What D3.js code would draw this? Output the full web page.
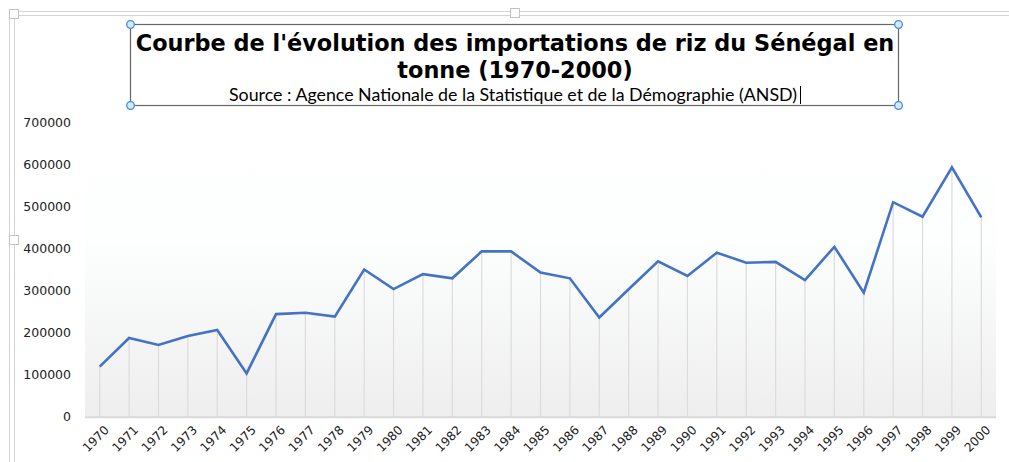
<!DOCTYPE html>
<html>
    <head>
        <meta charset="utf-8">
        <title>Importations de riz du Sénégal</title>
        <script src="https://cdn.jsdelivr.net/npm/d3@7"></script>
        <style>
            body { margin: 0; background: #fff; }
            svg { display: block; }
        </style>
    </head>
    <body>
        <script>
            // data
            var years = ["1970","1971","1972","1973","1974","1975","1976","1977","1978","1979",
                         "1980","1981","1982","1983","1984","1985","1986","1987","1988","1989",
                         "1990","1991","1992","1993","1994","1995","1996","1997","1998","1999","2000"];
            var imports = [119000, 187000, 170500, 192000, 206000, 103000, 244000, 247000, 238000, 350000,
                           303500, 339000, 329000, 393000, 393000, 343000, 329000, 236000, 303000, 369500,
                           334500, 390000, 366000, 368000, 325000, 404000, 295000, 510000, 475500, 593000, 474000];
            var yTicks = [0, 100000, 200000, 300000, 400000, 500000, 600000, 700000];
            var titleLines = ["Courbe de l'évolution des importations de riz du Sénégal en", "tonne (1970-2000)"];
            var subtitle = "Source : Agence Nationale de la Statistique et de la Démographie (ANSD)";

            var W = 1009, H = 462;
            var svg = d3.select("body").append("svg").attr("width", W).attr("height", H);

            // plot area (note: "top" is reserved on window, so use other names)
            var pLeft = 85, pRight = 996, pTop = 122.3, pBottom = 416.7;

            var x = d3.scaleBand().domain(years).range([pLeft, pRight]);
            var y = d3.scaleLinear().domain([0, 700000]).range([pBottom, pTop]);

            // plot background gradient
            var defs = svg.append("defs");
            var grad = defs.append("linearGradient").attr("id", "bg")
                .attr("x1", 0).attr("y1", 0).attr("x2", 0).attr("y2", 1);
            grad.append("stop").attr("offset", "0%").attr("stop-color", "#ffffff");
            grad.append("stop").attr("offset", "40%").attr("stop-color", "#fdfefe");
            grad.append("stop").attr("offset", "100%").attr("stop-color", "#eeeeee");
            svg.append("rect").attr("x", pLeft).attr("y", pTop).attr("width", pRight - pLeft)
                .attr("height", pBottom - pTop).attr("fill", "url(#bg)");

            // sheet frame (selection rulers)
            var frame = svg.append("g").attr("fill", "none");
            frame.append("line").attr("x1", 10).attr("x2", W).attr("y1", 11.5).attr("y2", 11.5).attr("stroke", "#d4d4d4");
            frame.append("line").attr("x1", 15).attr("x2", W).attr("y1", 15.5).attr("y2", 15.5).attr("stroke", "#d4d4d4");
            frame.append("line").attr("y1", 10).attr("y2", H).attr("x1", 9.5).attr("x2", 9.5).attr("stroke", "#d4d4d4");
            frame.append("line").attr("y1", 15).attr("y2", H).attr("x1", 14.5).attr("x2", 14.5).attr("stroke", "#d4d4d4");
            [[14, 14], [515, 13], [14, 240]].forEach(function (p) {
                frame.append("rect").attr("x", p[0] - 4.5).attr("y", p[1] - 4.5).attr("width", 9).attr("height", 9)
                    .attr("fill", "#fff").attr("stroke", "#c4c4c4");
            });

            // drop lines
            svg.append("g").selectAll("line").data(years).join("line")
                .attr("x1", function (d) { return x(d) + x.bandwidth() / 2; })
                .attr("x2", function (d) { return x(d) + x.bandwidth() / 2; })
                .attr("y1", function (d, i) { return y(imports[i]); })
                .attr("y2", pBottom)
                .attr("stroke", "#dcdcdc").attr("stroke-width", 1.2);

            // baseline
            svg.append("line").attr("x1", pLeft).attr("x2", pRight).attr("y1", pBottom + 0.5).attr("y2", pBottom + 0.5)
                .attr("stroke", "#d9d9d9").attr("stroke-width", 2);

            // y axis labels
            var yAxis = d3.axisLeft(y).tickValues(yTicks).tickSize(0).tickPadding(0).tickFormat(d3.format("d"));
            var gy = svg.append("g").attr("transform", "translate(71,0)").call(yAxis);
            gy.select(".domain").remove();
            gy.selectAll("text").attr("font-family", "DejaVu Sans, sans-serif").attr("font-size", 12.5).attr("fill", "#222");

            // x axis labels
            var xAxis = d3.axisBottom(x).tickSize(0).tickPadding(0);
            var gx = svg.append("g").attr("transform", "translate(0," + pBottom + ")").call(xAxis);
            gx.select(".domain").remove();
            gx.selectAll("text")
                .attr("font-family", "DejaVu Sans, sans-serif").attr("font-size", 12.2).attr("fill", "#222")
                .attr("text-anchor", "end").attr("x", 0).attr("y", 0).attr("dy", "0.35em")
                .attr("transform", "translate(7,11) rotate(-45)");

            // the line
            var line = d3.line()
                .x(function (d, i) { return x(years[i]) + x.bandwidth() / 2; })
                .y(function (d) { return y(d); });
            svg.append("path").datum(imports).attr("d", line)
                .attr("fill", "none").attr("stroke", "#4472c4").attr("stroke-width", 2.6)
                .attr("stroke-linejoin", "miter");

            // title box
            var box = svg.append("g");
            box.append("rect").attr("x", 130.5).attr("y", 24.5).attr("width", 768).attr("height", 81)
                .attr("fill", "none").attr("stroke", "#666").attr("stroke-width", 1.2);
            box.selectAll("text.t").data(titleLines).join("text").attr("class", "t")
                .attr("x", 515).attr("y", function (d, i) { return 51 + i * 27; })
                .attr("text-anchor", "middle").attr("font-family", "DejaVu Sans, sans-serif")
                .attr("font-weight", "bold").attr("font-size", 22.4).attr("fill", "#000")
                .text(function (d) { return d; });
            box.append("text").attr("x", 513).attr("y", 101).attr("text-anchor", "middle")
                .attr("font-family", "Lato, sans-serif").attr("font-size", 17.8).attr("fill", "#000")
                .text(subtitle);
            box.append("line").attr("x1", 800.5).attr("x2", 800.5).attr("y1", 86).attr("y2", 104)
                .attr("stroke", "#000");
            [[130.5, 24.5], [898.5, 24.5], [130.5, 105.5], [898.5, 105.5]].forEach(function (p) {
                box.append("circle").attr("cx", p[0]).attr("cy", p[1]).attr("r", 3.8)
                    .attr("fill", "#d6e9fb").attr("stroke", "#3d8fe0").attr("stroke-width", 1.3);
            });
        </script>
    </body>
</html>
